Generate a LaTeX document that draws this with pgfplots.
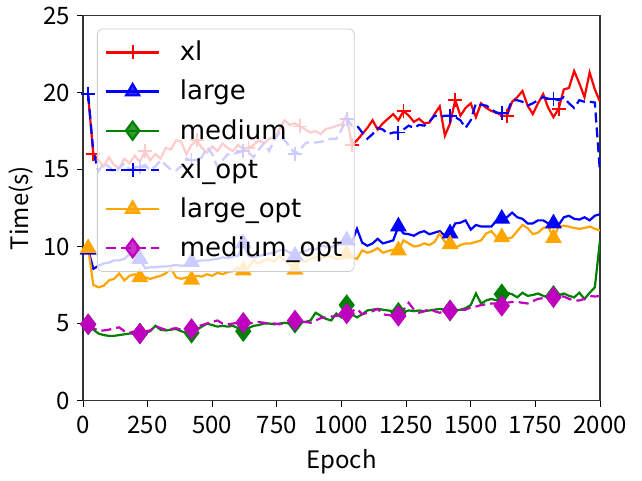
\documentclass[border=0pt]{standalone}
\usepackage{pgfplots}
\usepackage{pgfplotstable}
\usepackage{fontspec}
\pgfplotsset{compat=1.18}
\setmainfont{DejaVu Sans}
\newfontfamily\jp{Noto Sans CJK JP}
\newfontfamily\dv{DejaVu Sans}
\definecolor{mplred}{RGB}{255,0,0}
\definecolor{mplblue}{RGB}{0,0,255}
\definecolor{mplgreen}{RGB}{0,128,0}
\definecolor{mplorange}{RGB}{255,165,0}
\definecolor{mplmag}{RGB}{191,0,191}

\pgfplotstableread{
x xl large medium xlopt largeopt mediumopt
20 19.8 9.8 4.95 19.9 9.9 4.95
40 16.0 8.55 4.6 16.1 7.5 4.7
60 15.6 8.75 4.35 14.9 7.35 4.55
80 15.2 8.9 4.25 15.4 7.45 4.55
100 15.8 8.95 4.2 15.2 7.8 4.6
120 15.3 9.1 4.2 14.8 7.9 4.7
140 15.1 9.1 4.25 15.1 8.25 4.75
160 15.7 9.2 4.3 15.4 7.8 4.5
180 15.4 9.5 4.35 15.0 8.1 4.4
200 15.9 9.4 4.35 15.1 8.2 4.5
220 15.5 9.2 4.35 15.15 8.0 4.35
240 16.2 8.6 4.4 15.3 8.0 4.5
260 15.6 8.65 4.5 14.95 7.9 4.55
280 16.0 8.65 4.85 15.2 8.0 4.85
300 15.7 8.7 4.6 15.6 8.1 4.7
320 16.4 8.7 4.55 15.3 8.25 4.6
340 16.3 8.75 4.6 15.0 8.6 4.65
360 16.9 8.8 4.65 14.95 8.0 4.7
380 16.8 8.75 4.5 15.2 7.9 4.6
400 16.0 8.8 4.4 15.7 8.0 4.55
420 16.6 9.0 4.4 15.6 7.85 4.65
440 16.9 9.05 4.6 15.6 8.1 4.8
460 16.4 9.1 4.8 15.8 8.05 4.9
480 16.1 9.1 5.0 16.45 8.2 5.0
500 16.5 9.15 4.9 16.0 8.1 5.1
520 16.2 9.2 4.8 15.15 8.3 5.2
540 16.7 9.3 4.85 15.6 8.2 5.0
560 16.4 9.25 4.8 16.0 8.35 4.95
580 16.2 9.35 4.85 16.0 8.4 5.0
600 16.6 9.4 4.7 16.1 8.65 5.05
620 16.3 10.2 4.5 16.2 8.45 5.05
640 16.4 9.4 4.7 16.1 8.65 5.0
660 16.6 9.3 4.85 15.8 9.1 5.05
680 16.9 9.4 4.9 16.3 8.9 5.1
700 16.7 9.45 5.0 16.7 9.1 5.05
720 17.0 9.55 5.0 16.2 9.2 5.0
740 17.1 9.6 4.95 16.9 9.0 5.0
760 17.6 9.75 5.0 17.4 9.4 4.95
780 18.2 9.8 5.05 16.9 9.1 5.0
800 17.9 9.6 5.0 16.5 8.8 5.1
820 18.0 9.4 5.05 16.0 8.5 5.2
840 17.8 9.6 5.1 16.3 9.1 5.15
860 17.6 9.7 5.1 16.7 9.0 5.1
880 17.4 9.85 5.2 16.8 9.2 5.05
900 17.5 9.8 5.7 16.75 9.3 5.2
920 17.3 10.05 5.5 16.8 9.2 5.35
940 17.65 10.0 5.3 16.9 9.4 5.4
960 17.7 9.95 5.2 17.0 9.35 5.45
980 17.85 10.1 5.65 17.0 9.2 5.5
1000 17.9 10.2 5.4 17.6 9.2 5.55
1020 18.5 10.4 6.2 18.3 9.5 5.65
1040 16.6 10.3 5.6 17.85 9.3 5.8
1060 16.9 11.15 5.4 17.85 9.2 5.95
1080 17.3 10.25 5.6 17.4 9.75 5.6
1100 17.7 10.05 5.85 17.0 9.6 5.7
1120 18.2 10.2 5.9 17.3 9.7 5.8
1140 17.6 10.5 5.95 17.7 9.9 5.95
1160 18.0 10.2 5.9 17.6 9.6 5.6
1180 18.3 10.3 5.85 17.3 9.7 5.55
1200 18.6 10.4 5.8 17.4 9.8 5.5
1220 18.2 11.3 5.7 17.4 9.75 5.5
1240 18.8 10.85 5.75 17.6 10.4 5.9
1260 18.5 10.8 5.85 17.85 10.2 6.35
1280 18.1 10.7 5.8 17.7 10.0 5.9
1300 18.3 10.9 5.85 17.9 10.05 5.7
1320 18.0 11.0 5.8 17.85 10.2 5.8
1340 18.05 10.8 5.85 18.1 10.1 5.95
1360 18.6 10.9 5.9 18.5 10.3 5.8
1380 19.1 11.0 5.95 18.4 10.85 5.7
1400 17.2 10.7 5.9 18.5 10.3 5.8
1420 18.0 10.85 5.85 18.5 10.15 5.85
1440 19.5 11.5 5.85 18.4 9.9 5.95
1460 18.5 11.55 5.9 18.2 10.1 5.9
1480 19.0 11.7 6.0 17.7 10.2 5.9
1500 19.3 11.1 6.2 18.2 10.2 6.05
1520 18.4 11.4 6.95 19.3 10.3 6.1
1540 19.3 11.3 6.3 19.2 10.4 6.2
1560 19.0 11.3 6.5 19.15 10.85 6.25
1580 18.8 11.3 6.6 18.9 11.0 6.3
1600 18.7 11.7 6.5 18.7 10.6 6.3
1620 18.5 11.8 6.9 18.65 10.6 6.15
1640 18.5 11.9 7.0 18.7 10.5 6.35
1660 19.4 12.2 6.9 19.5 10.6 6.4
1680 19.7 11.9 6.7 19.5 11.0 6.4
1700 20.1 11.8 7.0 19.4 11.4 6.35
1720 19.15 11.5 6.8 19.15 11.2 6.3
1740 18.6 11.5 6.85 19.3 10.8 6.45
1760 19.3 11.7 6.95 19.5 10.9 6.6
1780 19.9 11.7 6.8 19.7 11.2 6.65
1800 19.0 11.5 6.7 19.6 11.3 6.75
1820 18.4 11.5 6.8 19.6 10.55 6.7
1840 18.95 11.4 6.85 19.5 11.3 6.8
1860 20.2 11.9 6.95 19.7 11.35 6.75
1880 20.3 12.0 6.8 19.3 11.3 6.6
1900 21.4 11.8 6.7 19.0 11.2 6.5
1920 20.6 11.75 7.0 19.5 11.15 6.5
1940 19.7 11.9 6.6 19.4 11.2 6.6
1960 21.3 11.7 7.0 19.4 11.3 6.8
1980 20.2 12.0 7.35 19.35 11.15 6.75
2000 19.4 12.1 10.4 14.8 11.05 6.8
}\data

\begin{document}
\begin{tikzpicture}
\begin{axis}[
  scale only axis,
  width=258.5pt, height=192.5pt,
  xmin=0, xmax=2000, ymin=0, ymax=25,
  xtick={0,250,...,2000}, ytick={0,5,...,25},
  tick align=outside, tick pos=left,
  major tick length=3pt,
  every tick/.style={black, line width=0.5pt},
  axis line style={black!80, line width=0.6pt},
  /pgf/number format/assume math mode=true,
  /pgf/number format/1000 sep={},
  tick label style={font=\jp\fontsize{12}{14}\selectfont},
  xticklabel style={yshift=-1pt},
  xlabel={Epoch}, ylabel={Time(s)},
  label style={font=\jp\fontsize{12}{14}\selectfont},
  xlabel style={yshift=-1pt},
  ylabel style={yshift=-2pt},
  legend style={at={(0.027,0.966)}, anchor=north west,
    font=\dv\fontsize{13}{15}\selectfont,
    fill=white, fill opacity=0.8, text opacity=1,
    draw=black!20, rounded corners=2.5pt,
    row sep=4.2pt, inner xsep=4pt, inner ysep=4pt},
  legend cell align=left,
  legend image code/.code={
    \draw[mark repeat=2,mark phase=2,#1] plot coordinates {(0cm,0cm) (0.46cm,0cm) (0.92cm,0cm)};
    \path (1.2cm,0cm);},
  clip=true,
]
\addplot[mplred, line width=1.1pt, mark=+, mark size=3.5pt, mark repeat=10, mark phase=2, mark options={solid,line width=0.9pt}] table[x=x,y=xl]{\data};
\addlegendentry{xl}
\addplot[mplblue, line width=1.1pt, mark=triangle*, mark size=3.8pt, mark repeat=10, mark phase=1, mark options={solid}] table[x=x,y=large]{\data};
\addlegendentry{large}
\addplot[mplgreen, line width=1.1pt, mark=diamond*, mark size=4.5pt, mark repeat=10, mark phase=1, mark options={solid}] table[x=x,y=medium]{\data};
\addlegendentry{medium}
\addplot[mplblue, line width=1.1pt, dash pattern=on 5pt off 2.5pt, mark=+, mark size=3.5pt, mark repeat=10, mark phase=1, mark options={solid,line width=0.9pt}] table[x=x,y=xlopt]{\data};
\addlegendentry{xl\_opt}
\addplot[mplorange, line width=1.1pt, mark=triangle*, mark size=3.8pt, mark repeat=10, mark phase=1, mark options={solid}] table[x=x,y=largeopt]{\data};
\addlegendentry{large\_opt}
\addplot[mplmag, line width=1.1pt, dash pattern=on 5pt off 2.5pt, mark=diamond*, mark size=4.5pt, mark repeat=10, mark phase=1, mark options={solid}] table[x=x,y=mediumopt]{\data};
\addlegendentry{medium\_opt}
\end{axis}
\path (current axis.south west) ++(-41.5pt,-35.5pt) coordinate (bbA);
\path (current axis.north east) ++(21pt,7.5pt) coordinate (bbB);
\useasboundingbox (bbA) rectangle (bbB);
\end{tikzpicture}
\end{document}
